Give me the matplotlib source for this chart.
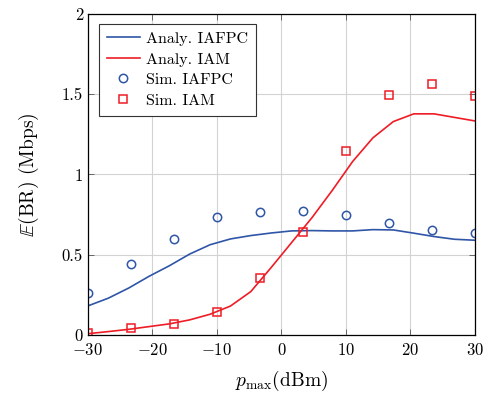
import numpy as np
import matplotlib
matplotlib.use('Agg')
import matplotlib.pyplot as plt

# font setup, close to the LaTeX look
plt.rcParams['font.family'] = 'serif'
plt.rcParams['font.serif'] = ['cmr10', 'DejaVu Serif']
plt.rcParams['mathtext.fontset'] = 'cm'
plt.rcParams['axes.formatter.use_mathtext'] = True

# analytic curves
x_analy = [-30, -26.84, -23.68, -20.53, -17.37, -14.21, -11.05, -7.89, -4.74, -1.58,
           1.58, 4.74, 7.89, 11.05, 14.21, 17.37, 20.53, 23.68, 26.84, 30]
analy_iafpc = [0.181, 0.229, 0.292, 0.365, 0.431, 0.504, 0.562, 0.598, 0.619, 0.635,
               0.648, 0.650, 0.648, 0.648, 0.656, 0.654, 0.634, 0.613, 0.596, 0.590]
analy_iam = [0.008, 0.021, 0.035, 0.052, 0.069, 0.094, 0.129, 0.180, 0.27, 0.42,
             0.575, 0.73, 0.90, 1.08, 1.228, 1.329, 1.377, 1.377, 1.355, 1.333]

# simulation points
x_sim = [-30, -23.33, -16.67, -10, -3.33, 3.33, 10, 16.67, 23.33, 30]
sim_iafpc = [0.264, 0.440, 0.598, 0.733, 0.766, 0.775, 0.746, 0.696, 0.654, 0.634]
sim_iam = [0.012, 0.044, 0.068, 0.145, 0.355, 0.640, 1.147, 1.497, 1.562, 1.491]

blue = '#2f55a7'
red = '#ee1c25'

fig = plt.figure(figsize=(4.83, 3.95), dpi=100)
ax = fig.add_axes([0.182, 0.152, 0.801, 0.813])

ax.plot(x_analy, analy_iafpc, color=blue, lw=1.2, label='Analy. IAFPC')
ax.plot(x_analy, analy_iam, color=red, lw=1.2, label='Analy. IAM')
ax.plot(x_sim, sim_iafpc, 'o', mfc='none', mec=blue, ms=6, mew=1.1, label='Sim. IAFPC')
ax.plot(x_sim, sim_iam, 's', mfc='none', mec=red, ms=6, mew=1.1, label='Sim. IAM')

ax.set_xlim(-30, 30)
ax.set_ylim(0, 2)
ax.set_xticks([-30, -20, -10, 0, 10, 20, 30])
ax.set_yticks([0, 0.5, 1, 1.5, 2])
ax.set_yticklabels(['0', '0.5', '1', '1.5', '2'])
ax.tick_params(direction='in', top=True, right=True, labelsize=12, length=4, width=0.6,
               color='#555555')
ax.tick_params(axis='x', pad=5)
ax.grid(True, color='#d3d3d3', lw=0.8)
ax.set_axisbelow(True)
for s in ax.spines.values():
    s.set_linewidth(0.9)

ax.set_xlabel(r'$p_{\max}$(dBm)', fontsize=14, labelpad=8)
ax.set_ylabel(r'$\mathbb{E}$(BR) (Mbps)', fontsize=14, labelpad=15)

leg = ax.legend(loc='upper left', bbox_to_anchor=(0.028, 0.969), fontsize=11.5,
                fancybox=False, framealpha=1, edgecolor='#333333', borderaxespad=0,
                handlelength=2.1, handletextpad=0.35, borderpad=0.5, labelspacing=0.4)
leg.get_frame().set_linewidth(0.8)

fig.savefig('out.png', dpi=100)
